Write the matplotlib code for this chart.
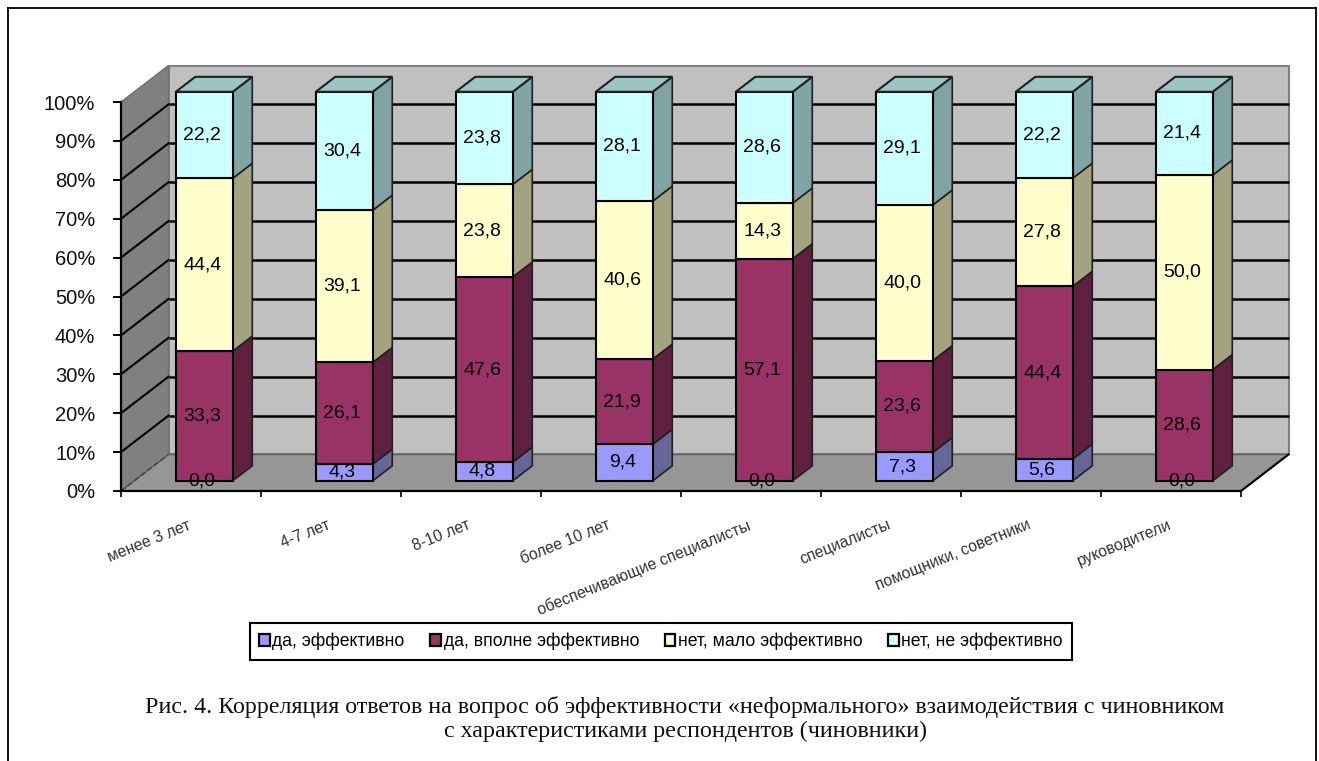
import matplotlib
matplotlib.use("Agg")
import matplotlib.pyplot as plt
from matplotlib.lines import Line2D
from matplotlib.patches import Patch
from matplotlib.transforms import ScaledTranslation
import numpy as np

categories = ["менее 3 лет", "4-7 лет", "8-10 лет", "более 10 лет",
              "обеспечивающие специалисты", "специалисты",
              "помощники, советники", "руководители"]
series_names = ["да, эффективно", "да, вполне эффективно",
                "нет, мало эффективно", "нет, не эффективно"]
da_eff = [0.0, 4.3, 4.8, 9.4, 0.0, 7.3, 5.6, 0.0]
da_vpolne = [33.3, 26.1, 47.6, 21.9, 57.1, 23.6, 44.4, 28.6]
net_malo = [44.4, 39.1, 23.8, 40.6, 14.3, 40.0, 27.8, 50.0]
net_ne = [22.2, 30.4, 23.8, 28.1, 28.6, 29.1, 22.2, 21.4]
y_ticks = [0, 10, 20, 30, 40, 50, 60, 70, 80, 90, 100]
caption = ("Рис. 4. Корреляция ответов на вопрос об эффективности «неформального» взаимодействия с чиновником\n"
           "с характеристиками респондентов (чиновники)")

front_colors = ["#9999FF", "#993366", "#FFFFCC", "#CCFFFF"]
side_colors = ["#666699", "#602040", "#A3A380", "#80A3A3"]
top_color = "#9CC4C4"

W, H = 1319, 761
plt.rcParams["font.family"] = ["Liberation Sans", "DejaVu Sans"]
fig = plt.figure(figsize=(W / 100, H / 100), dpi=100)
fig.patch.set_facecolor("white")

# front plane of the fake 3d box
left, right, bottom, top = 121, 1241, 491, 102
ax = fig.add_axes([left / W, 1 - bottom / H, (right - left) / W, (bottom - top) / H])
ax.set_xlim(0, 8)
ax.set_ylim(0, 100)
ax.patch.set_visible(False)

# depth of the box in data units
DX = 47.5 / 140
DY = 36.5 / 3.89


def shift(x, y, d):
    return x + d * DX, y + d * DY


def face(pts, d_list, color, z, edge="none", lw=0):
    xs, ys = [], []
    for (x, y), d in zip(pts, d_list):
        a, b = shift(x, y, d)
        xs.append(a)
        ys.append(b)
    ax.fill(xs, ys, facecolor=color, edgecolor=edge, linewidth=lw, zorder=z, clip_on=False)


# walls and floor
face([(0, 0), (8, 0), (8, 100), (0, 100)], [1, 1, 1, 1], "#C0C0C0", 1, "#808080", 1.5)
face([(0, 0), (0, 0), (0, 100), (0, 100)], [0, 1, 1, 0], "#808080", 1, "#707070", 1)
face([(0, 0), (8, 0), (8, 0), (0, 0)], [0, 0, 1, 1], "#969696", 1, "#606060", 1)

# gridlines, side wall then back wall
for t in y_ticks[1:-1]:
    x0, y0 = shift(0, t, 1)
    x1, y1 = shift(8, t, 1)
    ax.plot([0, x0], [t, y0], color="black", lw=1.5, zorder=2, clip_on=False)
    ax.plot([x0, x1], [y0, y1], color="black", lw=1.8, zorder=2, clip_on=False,
            solid_capstyle="butt")
x0, y0 = shift(0, 0, 1)
ax.plot([0, x0], [0, y0], color="#404040", lw=1, ls=(0, (4, 2)), zorder=2, clip_on=False)
x1, y1 = shift(8, 0, 1)
ax.plot([8, x1], [0, y1], color="black", lw=1.5, zorder=2, clip_on=False)

# stacked bars, each value scaled to 100%
values = np.array([da_eff, da_vpolne, net_malo, net_ne])
shares = values / values.sum(axis=0) * 100
bar_w = 0.407
d0, d1 = 0.28, 0.69
for i in range(len(categories)):
    xl = i + 0.2965
    xr = xl + bar_w
    base = 0
    for s in range(4):
        h = shares[s][i]
        if h > 0:
            # right side of the segment
            face([(xr, base), (xr, base), (xr, base + h), (xr, base + h)],
                 [d0, d1, d1, d0], side_colors[s], 3, "#202020", 1.2)
            fx, fy = shift(xl, base, d0)
            ax.bar(fx, h, width=bar_w, bottom=fy, align="edge", color=front_colors[s],
                   edgecolor="black", linewidth=1.5, zorder=4, clip_on=False)
        base += h
    face([(xl, 100), (xr, 100), (xr, 100), (xl, 100)], [d0, d0, d1, d1], top_color, 4, "#202020", 1.5)
    # value labels on the front face
    base = 0
    for s in range(4):
        h = shares[s][i]
        lx, ly = shift(xl + bar_w / 2 - 0.015, base + h / 2, d0)
        ax.text(lx, ly, f"{values[s][i]:.1f}".replace(".", ","), ha="center", va="center",
                fontsize=14, color="black", zorder=6, clip_on=False)
        base += h

# axes, ticks and their labels
for name in ["top", "right"]:
    ax.spines[name].set_visible(False)
for name in ["left", "bottom"]:
    ax.spines[name].set_linewidth(1.6)
    ax.spines[name].set_zorder(5)
ax.set_yticks(y_ticks)
ax.set_yticklabels([f"{t}%" for t in y_ticks], fontsize=14.5, color="#111111")
ax.tick_params(axis="y", length=6, width=1.4, pad=12.5)
ax.set_xticks(np.arange(0, 9))
ax.set_xticklabels([])
ax.tick_params(axis="x", length=4, width=1.2)
ax.set_xticks(np.arange(len(categories)) + 0.5, minor=True)
ax.set_xticklabels(categories, minor=True, rotation=22, ha="right", va="top",
                   rotation_mode="anchor", fontsize=11.3, color="#333333")
ax.tick_params(axis="x", which="minor", length=0, pad=19)
for lab in ax.get_xticklabels(minor=True):
    lab.set_transform(lab.get_transform() + ScaledTranslation(-0.04, 0, fig.dpi_scale_trans))

# legend
handles = [Patch(facecolor=c, edgecolor="black", linewidth=1.6) for c in front_colors]
leg = fig.legend(handles, series_names, ncols=4, loc="center",
                 bbox_to_anchor=(661 / W, 1 - 641.5 / H), fontsize=12.7,
                 handlelength=0.6, handleheight=0.6, handletextpad=0.15,
                 columnspacing=1.45, borderpad=0.55, fancybox=False, framealpha=1,
                 edgecolor="black")
leg.get_frame().set_linewidth(1.5)

# caption below the chart
fig.text(685 / W, 1 - 719 / H, caption, ha="center", va="center", fontsize=17.3,
         family=["Liberation Serif", "DejaVu Serif"], color="#111111", linespacing=1.15)

# page border of the scanned document
for xs, ys in [([8, 1316], [8, 8]), ([8, 8], [8, 761]), ([1316, 1316], [8, 761])]:
    fig.add_artist(Line2D([x / W for x in xs], [1 - y / H for y in ys], color="black", lw=1.3))

fig.savefig("out.png", dpi=100)
